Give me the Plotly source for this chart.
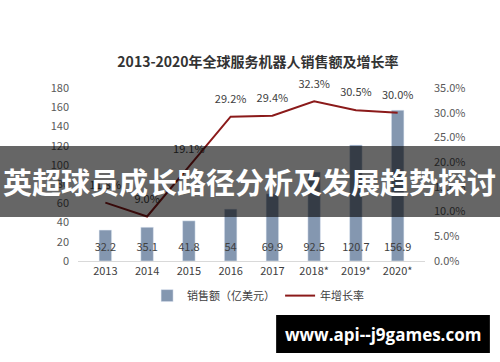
import plotly.graph_objects as go

years = ["2013", "2014", "2015", "2016", "2017", "2018*", "2019*", "2020*"]
sales = [32.2, 35.1, 41.8, 54, 69.9, 92.5, 120.7, 156.9]
sales_labels = ["32.2", "35.1", "41.8", "54", "69.9", "92.5", "120.7", "156.9"]
growth = [11.8, 9.0, 19.1, 29.2, 29.4, 32.3, 30.5, 30.0]
growth_labels = ["11.8%", "9.0%", "19.1%", "29.2%", "29.4%", "32.3%", "30.5%", "30.0%"]
left_ticks = [0, 20, 40, 60, 80, 100, 120, 140, 160, 180]
right_ticks = [0, 5, 10, 15, 20, 25, 30, 35]
right_tick_labels = ["0.0%", "5.0%", "10.0%", "15.0%", "20.0%", "25.0%", "30.0%", "35.0%"]

font_family = "Noto Sans CJK SC, Noto Sans, sans-serif"

fig = go.Figure()
fig.add_trace(go.Bar(
    x=years, y=sales, name="销售额（亿美元）",
    marker_color="#8497B0",
))
# bar value labels near the base of each bar
fig.add_trace(go.Scatter(
    x=years, y=[0.072 * 180] * len(years), mode="text", text=sales_labels,
    textposition="middle center", textfont=dict(size=11, color="#404040"),
    showlegend=False, hoverinfo="skip",
))
fig.add_trace(go.Scatter(
    x=years, y=growth, name="年增长率", yaxis="y2",
    mode="lines+markers+text", line=dict(color="#8B1A1A", width=2),
    marker=dict(size=16, color="rgba(0,0,0,0)"),
    text=growth_labels, textposition="top center", cliponaxis=False,
    textfont=dict(size=11, color="#404040"),
))

fig.update_layout(
    width=500, height=362,
    margin=dict(l=78, r=75, t=88, b=101, autoexpand=False),
    paper_bgcolor="white", plot_bgcolor="white",
    font=dict(family=font_family, size=11, color="#595959"),
    bargap=0.7,
    title=dict(text="<b>2013-2020年全球服务机器人销售额及增长率</b>",
               x=0.516, xanchor="center", y=0.829, yanchor="middle",
               font=dict(size=14, color="#333333")),
    xaxis=dict(showline=True, linecolor="#D9D9D9", ticks="", showgrid=False, automargin=False,
               tickfont=dict(size=11, color="#404040")),
    yaxis=dict(range=[0, 180], tickvals=left_ticks, showgrid=False, zeroline=False, automargin=False,
               showline=False, ticks="", ticklabelstandoff=8, tickfont=dict(size=11, color="#595959")),
    yaxis2=dict(range=[0, 35], tickvals=right_ticks, ticktext=right_tick_labels, automargin=False,
                overlaying="y", side="right", showgrid=False, zeroline=False,
                showline=False, ticks="", ticklabelstandoff=8, tickfont=dict(size=11, color="#595959")),
    legend=dict(orientation="h", x=0.519, xanchor="center", y=-0.2, yanchor="middle",
                font=dict(size=11, color="#404040")),
    showlegend=True,
)

# banner overlay
fig.add_shape(type="rect", xref="paper", yref="paper", x0=-0.3, x1=1.3, y0=0.254, y1=0.665,
              fillcolor="rgba(0,0,0,0.6)", line=dict(width=0), layer="above")
fig.add_annotation(xref="paper", yref="paper", x=0.495, y=0.46, xanchor="center", yanchor="middle",
                   text="<b>英超球员成长路径分析及发展趋势探讨</b>", showarrow=False,
                   font=dict(size=29, color="white", family=font_family))
# watermark
fig.add_shape(type="rect", xref="paper", yref="paper", x0=0.571, x1=1.187, y0=-0.532, y1=-0.312,
              fillcolor="black", line=dict(width=0), layer="above")
fig.add_annotation(xref="paper", yref="paper", x=0.879, y=-0.422, xanchor="center", yanchor="middle",
                   text="<b>www.api--j9games.com</b>", showarrow=False,
                   font=dict(size=17, color="white", family="Open Sans, sans-serif"))

fig.write_html("out.html", config={"displayModeBar": False},
               post_script="document.body.style.margin='0px';")
